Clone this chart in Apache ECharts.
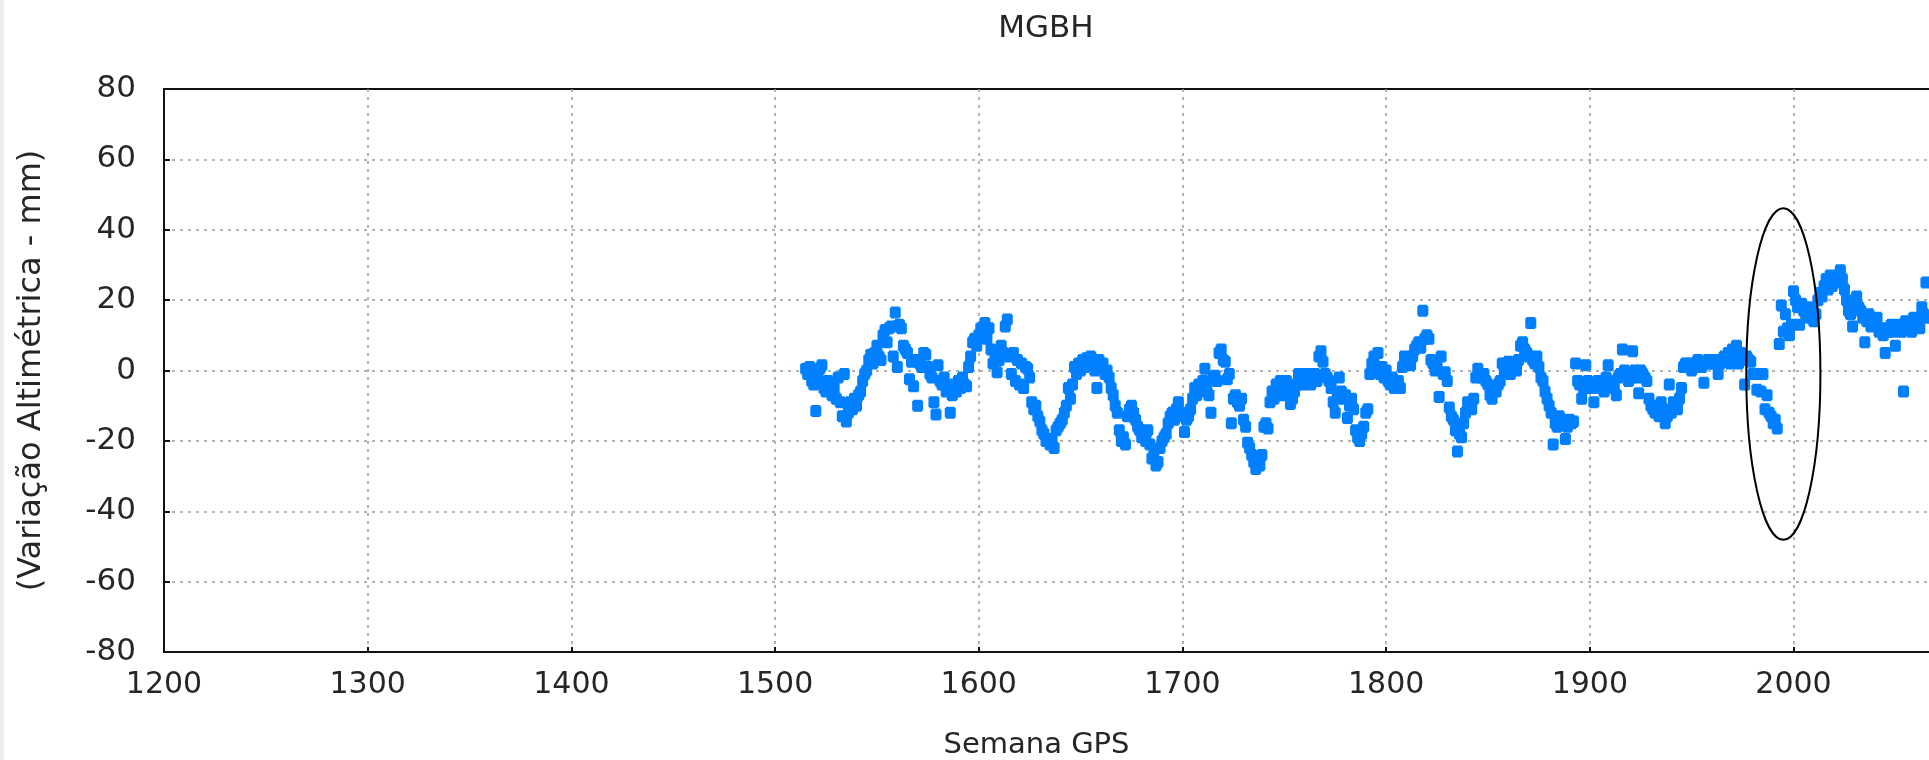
<!DOCTYPE html>
<html>
<head>
<meta charset="utf-8">
<script src="https://cdn.jsdelivr.net/npm/echarts@6/dist/echarts.min.js"></script>
<style>
html,body{margin:0;padding:0;overflow:hidden;background:#fff;}
#edge{position:absolute;left:0;top:0;width:4px;height:760px;background:#ededed;z-index:5;}
#chart{width:2092px;height:760px;}
</style>
</head>
<body>
<div id="edge"></div>
<div id="chart"></div>
<script>
const chartTitle = 'MGBH';
const xAxisName = 'Semana GPS';
const yAxisName = '(Variação Altimétrica - mm)';
const xTicks = [1200, 1300, 1400, 1500, 1600, 1700, 1800, 1900, 2000];
const xMax = 2067;
const yTicks = [-80, -60, -40, -20, 0, 20, 40, 60, 80];
const firstWeek = 1515;
const heights = [
  0.5, -1, 1, -3, -4, -11.5, -2, 0.5, 1.5, -5,
  -6, -3, -4, -7, -5, -8, -2, -9, -13, -1,
  -14.5, -12, -9, -11, -8, -10, -7, -6, -3, -1,
  0, 3, 4.5, 2, 5, 7, 4, 3, 10, 11.5,
  8, 12, 12.5, 4, 16.5, 1, 13, 12, 7, 6,
  5, -2.5, 2.5, -4.5, 3, -10, 2, 1, 5, 4.5,
  1, -1, -2, -9, -12.5, 1.5, -3, -4, -2, -6,
  -5, -12, -7, -4, -6, -3, -5, -2, -4, -4.5,
  1, 4, 8, 9, 7, 10, 12, 11, 13.5, 9,
  12, 6, 2, 5, -0.5, 3, 7, 5, 12.5, 14.5,
  4, -1, 5, -3, 3, -4, 2, -5, 1, 0.5,
  -2, -9, -11, -10, -13, -14.5, -17, -18, -20, -19.5,
  -21, -20, -22, -17, -16, -15, -14, -12, -10, -5,
  -8, -4, 1, -1, 2, 0, 3, 1, 3.5, 2,
  4, 2.5, 0, -5, 3, 1, 2, -1, 0, -2,
  -5, -7, -10, -12, -17, -20, -19, -21, -13, -11,
  -10, -12, -14, -16, -17, -19, -18, -20, -17, -21,
  -25, -24, -27, -26, -22, -20, -19, -18, -15, -13,
  -12, -14, -11, -9, -13, -12, -17.5, -14, -13, -11,
  -8, -5, -7, -4, -6, -3, 0.5, -5, -7, -12,
  -2, -1.5, -3, 5, 6, 3, 2.5, -2.5, -1, -15,
  -8, -7, -9, -10, -8, -14, -16, -20.5, -22, -24,
  -26, -28, -25, -27, -24, -16, -15, -16.5, -9, -6,
  -8, -4, -5, -3, -7, -4, -3, -5, -9.5, -8,
  -6, -4, -1, -2, -4, -3, -1, -2, -4, -2,
  -1, -3, 4, 5.5, 2.5, -1, -2, -3, -5, -9,
  -12, -7, -2, -6, -8, -7, -13.5, -10, -8, -11,
  -17, -19, -20, -18, -16, -12, -11, -1, 2, 4,
  0, 5, -1, 1, -2, 0, -3, -4, -2, -5,
  -4, -3, -5, 1, 4, 2, 3, 1.5, 4, 6,
  7, 8, 6.5, 17, 9, 10, 9, 3, 2, 0,
  1, -7.5, 4, -1, -0.5, -3, -10.5, -13, -14, -17,
  -23, -18, -19, -15, -12, -9, -10, -11, -8, -2,
  0.5, -1, -2, -1, -3, -4, -7, -8, -5, -6,
  -4, -3, 2, 0, 1, 2.5, -1, 1, 2, 0,
  3, 7, 8, 6, 5, 4, 13.5, 3, 2, 4,
  1, -2, -3, -6, -8, -10, -12, -21, -15, -16,
  -13, -14, -15, -19.5, -16, -14, -15, -14.5, 2, -3,
  -4, -8, -5, 1.5, -3, -4, -5, -9, -4, -3,
  -5, -3, -6, -2, 1.5, -4, -3, -5, -7, -2,
  -1, 6, 0, -1, -3, -2, 5.5, 0, -2, -6.5,
  0, -1, -2, -3, -8, -10, -11, -12, -10, -13,
  -9, -11, -15, -13, -4, -12, -9, -10, -11, -8,
  -5, 1, 2, 1, 2, 0, 1, 2, 3, 2,
  1, -3.5, 2, 3, 2, 3, 2, 3, -1, 2,
  3, 4, 3, 5, 2, 6, 4, 7, 2, 5,
  3, -4, 4, 3, 2.5, -1, -1, -5.5, -1, -6,
  -1, -11, -7, -12, -13, -15, -14, -16.5, 7.5, 18.5,
  11, 16, 12, 10, 13, 22.5, 20, 18, 13, 19,
  17, 16, 18, 15, 17, 14, 16, 20, 22, 21,
  24, 26, 23, 27, 24, 26, 25, 27, 28.5, 26,
  23, 20, 17, 16, 12.5, 19, 21, 18, 17, 15,
  8, 14, 16, 12.5, 14, 13, 15, 11, 12, 10,
  5, 11, 12, 13, 11, 7, 12, 13, 11, -6,
  14, 12, 13, 11, 15, 13, 14, 12, 18, 16,
  25, 15
];
// highlighted ellipse annotation: [centre week, centre mm, half-width weeks, half-height mm]
const ellipseMark = [1995, -1, 18.2, 47.1];

const points = heights.map((h, i) => [firstWeek + i, h]);

const chart = echarts.init(document.getElementById('chart'), null, {renderer: 'canvas'});
const fontFam = '"DejaVu Sans", sans-serif';
const gridLine = (showMin, showMax) => ({
  show: true, showMinLine: showMin, showMaxLine: showMax,
  lineStyle: {color: '#9a9a9a', width: 1.5, type: [3, 5]}
});

chart.setOption({
  animation: false,
  backgroundColor: '#ffffff',
  title: {
    text: chartTitle,
    left: 'center',
    top: 8,
    textStyle: {fontFamily: fontFam, fontSize: 31, fontWeight: 'normal', color: '#262626'}
  },
  grid: {
    left: 164, top: 89, width: 1766, height: 563,
    outerBoundsMode: 'none', containLabel: false,
    show: true, borderColor: '#111', borderWidth: 2, backgroundColor: 'transparent'
  },
  xAxis: {
    type: 'value',
    min: xTicks[0], max: xMax, interval: 100,
    name: xAxisName, nameLocation: 'middle', nameGap: 79,
    nameTextStyle: {fontFamily: fontFam, fontSize: 29, color: '#262626', padding: [0, 21, 0, 0]},
    axisLine: {show: true, onZero: false, lineStyle: {color: '#111', width: 2}},
    axisTick: {show: true, inside: true, length: 5, lineStyle: {color: '#111', width: 2}},
    axisLabel: {fontFamily: fontFam, fontSize: 30, color: '#262626', margin: 18,
      formatter: v => (xTicks.indexOf(v) >= 0 ? String(v) : '')},
    splitLine: gridLine(true, false)
  },
  yAxis: {
    type: 'value',
    min: yTicks[0], max: yTicks[yTicks.length - 1], interval: 20,
    name: yAxisName, nameLocation: 'middle', nameGap: 116, nameRotate: 90,
    nameTextStyle: {fontFamily: fontFam, fontSize: 32, color: '#262626'},
    axisLine: {show: true, onZero: false, lineStyle: {color: '#111', width: 2}},
    axisTick: {show: true, inside: true, length: 6, lineStyle: {color: '#111', width: 2}},
    axisLabel: {fontFamily: fontFam, fontSize: 31, color: '#262626', margin: 28,
      formatter: v => String(v)},
    splitLine: gridLine(false, false)
  },
  series: [
    {
      type: 'scatter',
      data: points,
      symbol: 'path://M1,0H9V1H10V9H9V10H1V9H0V1H1Z',
      symbolSize: [11, 12],
      itemStyle: {color: '#0080ff', opacity: 1},
      z: 2
    },
    {
      type: 'custom',
      data: [ellipseMark],
      clip: false,
      z: 5,
      renderItem: function (params, api) {
        const c = api.coord([api.value(0), api.value(1)]);
        const s = api.size([api.value(2), api.value(3)]);
        return {
          type: 'ellipse',
          shape: {cx: c[0], cy: c[1], rx: s[0], ry: s[1]},
          style: {fill: 'none', stroke: '#000', lineWidth: 2}
        };
      }
    }
  ]
});
</script>
</body>
</html>
